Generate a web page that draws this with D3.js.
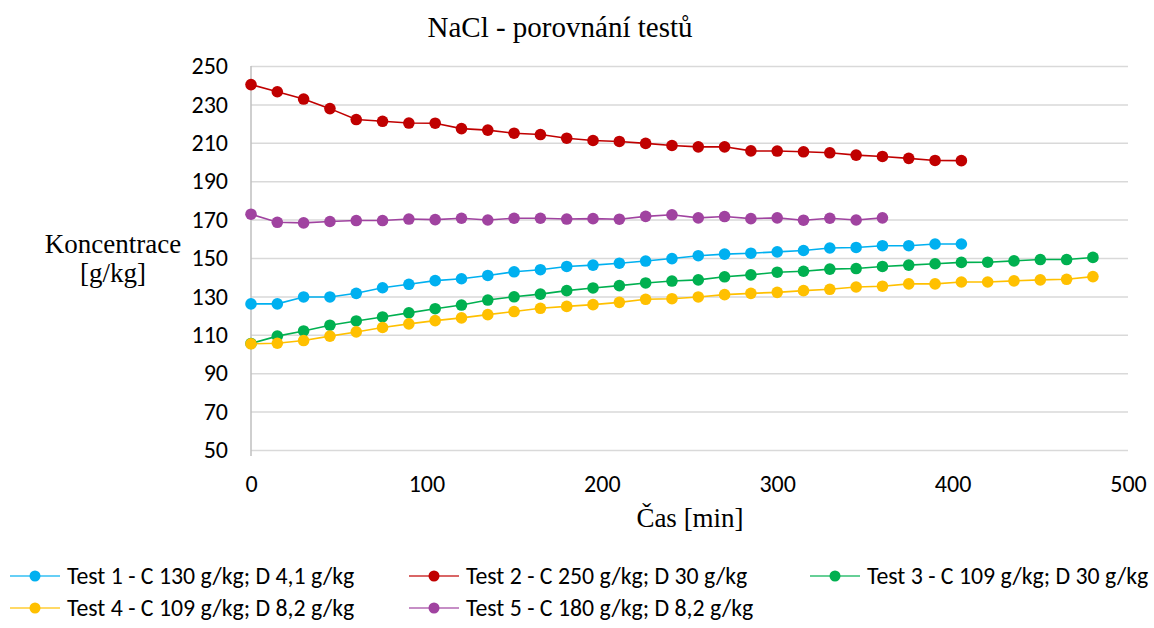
<!DOCTYPE html>
<html>
 <head>
 <title>NaCl - porovnání testů</title>
 <meta charset="UTF-8">
 <style type="text/css">
   body { margin: 0; background: #fff; }
   .tick text { font-family: Carlito, Lato, sans-serif; font-size: 24px; fill: #000; }
 </style>
 <script src="https://d3js.org/d3.v7.min.js"></script>
 </head>
 <body>
 <script type="text/javascript">

    // time axis in minutes, one sample every 15 min
    var time = [0, 15, 30, 45, 60, 75, 90, 105, 120, 135, 150, 165, 180, 195, 210, 225, 240,
                255, 270, 285, 300, 315, 330, 345, 360, 375, 390, 405, 420, 435, 450, 465, 480];

    var test1 = [126.1, 126.1, 129.7, 129.7, 131.6, 134.5, 136.3, 138.2, 139.2, 140.9, 142.8, 143.9, 145.6, 146.3,
                 147.3, 148.4, 149.7, 151.2, 152.0, 152.5, 153.2, 153.9, 155.2, 155.5, 156.4, 156.4, 157.3, 157.3];
    var test2 = [240.3, 236.6, 232.8, 227.8, 222.1, 221.2, 220.3, 220.2, 217.4, 216.6, 215.0, 214.3, 212.4, 211.2,
                 210.7, 209.7, 208.6, 207.9, 207.9, 205.8, 205.7, 205.3, 204.8, 203.6, 202.9, 201.9, 200.8, 200.7];
    var test3 = [105.5, 109.3, 112.0, 115.0, 117.2, 119.3, 121.4, 123.6, 125.5, 128.1, 129.8, 131.2, 133.0, 134.4,
                 135.6, 137.0, 138.0, 138.6, 140.2, 141.2, 142.6, 143.1, 144.2, 144.5, 145.6, 146.3, 147.0, 147.7,
                 147.8, 148.5, 149.2, 149.2, 150.3];
    var test4 = [105.3, 105.6, 107.0, 109.3, 111.5, 113.8, 115.7, 117.4, 118.8, 120.5, 122.1, 123.8, 124.8, 125.7,
                 126.9, 128.5, 128.8, 129.7, 130.9, 131.6, 132.1, 133.0, 133.7, 134.9, 135.3, 136.5, 136.5, 137.5,
                 137.5, 138.1, 138.6, 138.9, 140.3];
    var test5 = [172.8, 168.6, 168.3, 169.0, 169.5, 169.5, 170.3, 170.0, 170.7, 169.8, 170.7, 170.7, 170.3, 170.5,
                 170.2, 171.7, 172.5, 170.9, 171.6, 170.5, 170.9, 169.7, 170.7, 169.8, 170.9];

    var names = ["Test 1 - C 130 g/kg; D 4,1 g/kg", "Test 2 - C 250 g/kg; D 30 g/kg",
                 "Test 3 - C 109 g/kg; D 30 g/kg", "Test 4 - C 109 g/kg; D 8,2 g/kg",
                 "Test 5 - C 180 g/kg; D 8,2 g/kg"];
    var colors = ["#00B0F0", "#C00000", "#00B050", "#FFC000", "#A043A0"];
    var yTicks = [50, 70, 90, 110, 130, 150, 170, 190, 210, 230, 250];
    var xTicks = [0, 100, 200, 300, 400, 500];

    var series = [test1, test2, test3, test4, test5].map(function(vals, i) {
        return { name: names[i], color: colors[i],
                 points: vals.map(function(v, j) { return { t: time[j], v: v }; }) };
    });

    var W = 1154, H = 628;
    var margin = {top: 66, right: 26, bottom: 178, left: 251};
    var width = W - margin.left - margin.right,
        height = H - margin.top - margin.bottom;

    var x = d3.scaleLinear().domain([0, 500]).range([0, width]);
    var y = d3.scaleLinear().domain([50, 250]).range([height, 0]);

    var serif = "'Liberation Serif', 'Times New Roman', serif";

    var svg = d3.select("body").append("svg")
        .attr("width", W).attr("height", H);

    svg.append("text")
        .attr("x", 560).attr("y", 37)
        .attr("text-anchor", "middle")
        .style("font-family", serif)
        .style("font-size", "29px")
        .text("NaCl - porovnání testů");

    var g = svg.append("g")
        .attr("transform", "translate(" + margin.left + "," + margin.top + ")");

    // gridlines
    g.append("g")
        .call(d3.axisLeft(y).tickValues(yTicks).tickSize(-width).tickFormat(""))
        .call(function(s) { s.select(".domain").remove(); })
        .selectAll("line").attr("stroke", "#D9D9D9").attr("stroke-width", 1.5);

    // y axis labels
    g.append("g")
        .call(d3.axisLeft(y).tickValues(yTicks).tickSize(0).tickPadding(23))
        .call(function(s) { s.select(".domain").remove(); });

    // x axis labels
    g.append("g")
        .attr("transform", "translate(0," + height + ")")
        .call(d3.axisBottom(x).tickValues(xTicks).tickSize(0).tickPadding(25))
        .call(function(s) { s.select(".domain").remove(); });

    // left axis line
    g.append("line")
        .attr("x1", 0).attr("x2", 0).attr("y1", 0).attr("y2", height + 6)
        .attr("stroke", "#BFBFBF").attr("stroke-width", 1.5);

    var line = d3.line()
        .x(function(d) { return x(d.t); })
        .y(function(d) { return y(d.v); });

    series.forEach(function(s) {
        g.append("path")
            .attr("d", line(s.points))
            .attr("fill", "none")
            .attr("stroke", s.color)
            .attr("stroke-width", 1.6);
        g.selectAll(null).data(s.points).enter().append("circle")
            .attr("cx", function(d) { return x(d.t); })
            .attr("cy", function(d) { return y(d.v); })
            .attr("r", 5.8)
            .attr("fill", s.color);
    });

    // axis titles
    svg.append("text")
        .attr("x", 113).attr("y", 253)
        .attr("text-anchor", "middle")
        .style("font-family", serif).style("font-size", "27px")
        .text("Koncentrace");
    svg.append("text")
        .attr("x", 113).attr("y", 282)
        .attr("text-anchor", "middle")
        .style("font-family", serif).style("font-size", "27px")
        .text("[g/kg]");
    svg.append("text")
        .attr("x", 690).attr("y", 527)
        .attr("text-anchor", "middle")
        .style("font-family", serif).style("font-size", "27px")
        .text("Čas [min]");

    // legend
    var legX = [10, 409, 810], legY = [576, 608];
    series.forEach(function(s, i) {
        var lx = legX[i % 3], ly = legY[Math.floor(i / 3)];
        var lg = svg.append("g").attr("transform", "translate(" + lx + "," + ly + ")");
        lg.append("line").attr("x1", 0).attr("x2", 50).attr("y1", 0).attr("y2", 0)
            .attr("stroke", s.color).attr("stroke-width", 1.6).attr("opacity", 0.8);
        lg.append("circle").attr("cx", 25).attr("cy", 0).attr("r", 5.5).attr("fill", s.color);
        lg.append("text").attr("x", 57).attr("y", 0).attr("dy", "0.34em")
            .style("font-family", "Carlito, Lato, sans-serif").style("font-size", "23.8px")
            .text(s.name);
    });

 </script>
 </body>
</html>
